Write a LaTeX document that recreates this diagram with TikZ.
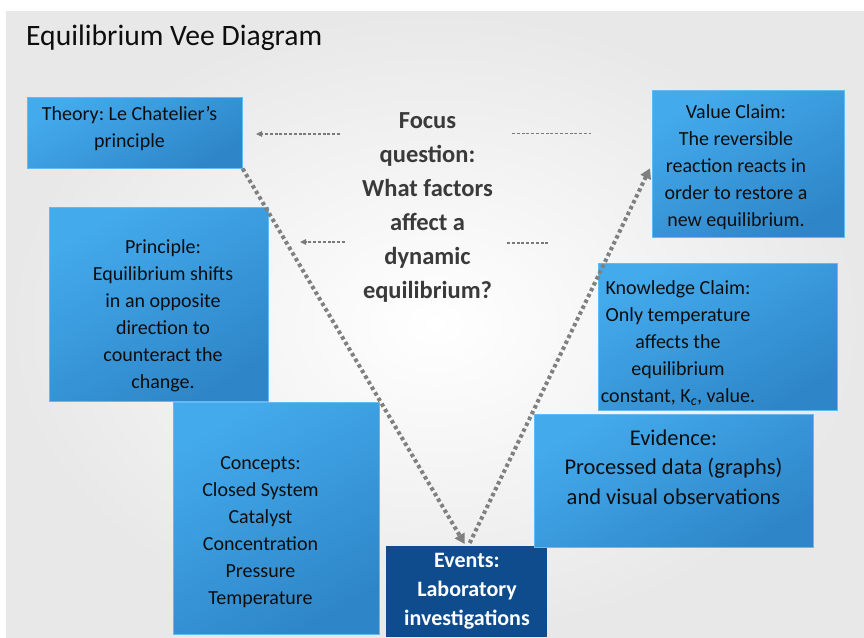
\documentclass[tikz,border=0pt]{standalone}
\usepackage{fontspec}
\setmainfont{Carlito}
\usetikzlibrary{arrows.meta}
\frenchspacing
\definecolor{bA}{HTML}{43AAEC}
\definecolor{bB}{HTML}{2E86C8}
\definecolor{bEdge}{HTML}{62BAF0}
\definecolor{evBlue}{HTML}{0F4C8E}
\definecolor{vgray}{HTML}{808080}
\definecolor{dgray}{HTML}{7A7A7A}
\definecolor{qgray}{HTML}{3A3A3A}
\definecolor{bgOuter}{HTML}{E8E8E8}
\definecolor{txt}{HTML}{0E0E0E}
\begin{document}
\begin{tikzpicture}[x=1pt,y=-1pt,
  bluebox/.style={draw=bEdge, line width=0.6pt, top color=bA, bottom color=bB, shading angle=30, anchor=north west, inner sep=0pt},
  darkbox/.style={fill=evBlue, anchor=north west, inner sep=0pt},
  boxtext/.style={anchor=base, align=center, inner sep=0pt, text=txt, font=\fontsize{20}{27}\selectfont},
  vline/.style={draw=vgray, line width=4pt, dash pattern=on 3.5pt off 3pt, -{Triangle[length=10pt,width=11pt]}},
  dline/.style={draw=dgray, line width=1.3pt, dash pattern=on 3pt off 1.8pt},
  dtip/.style={-{Triangle[length=6pt,width=5.5pt]}}
]
\useasboundingbox (0,0) rectangle (864,637);
\fill[white] (0,0) rectangle (864,637);
\shade[inner color=white, outer color=bgOuter] (6,11) rectangle (864,637);

\node[anchor=base west, inner sep=0pt, text=txt, font=\fontsize{29.6}{34}\selectfont] (title) at (26,45) {Equilibrium Vee Diagram};

% boxes
\node[bluebox, minimum width=215pt, minimum height=71pt] (theory) at (27,97) {};
\node[bluebox, minimum width=219pt, minimum height=194pt] (principle) at (49,207) {};
\node[bluebox, minimum width=206pt, minimum height=232pt] (concepts) at (173,402) {};
\node[darkbox, minimum width=161pt, minimum height=91pt] (events) at (386,546) {};
\node[bluebox, minimum width=279pt, minimum height=133pt] (evidence) at (534,414) {};
\node[bluebox, minimum width=239pt, minimum height=147pt] (knowledge) at (598,263) {};
\node[bluebox, minimum width=192pt, minimum height=147pt] (value) at (652,90) {};

% texts (base anchor = baseline of the last line)
\node[boxtext] (theoryT) at (129.5,147) {Theory: Le Chatelier’s\\principle};
\node[boxtext] (principleT) at (163,388) {Principle:\\Equilibrium shifts\\in an opposite\\direction to\\counteract the\\change.};
\node[boxtext] (conceptsT) at (260.5,604.5) {Concepts:\\Closed System\\Catalyst\\Concentration\\Pressure\\Temperature};
\node[boxtext, text=white, font=\fontsize{22}{29}\selectfont\bfseries] (eventsT) at (467,625) {Events:\\Laboratory\\investigations};
\node[boxtext, font=\fontsize{22.5}{29.5}\selectfont] (evidenceT) at (673.5,504) {Evidence:\\Processed data (graphs)\\and visual observations};
\node[boxtext] (knowT) at (678,402.5) {Knowledge Claim:\\Only temperature\\affects the\\equilibrium\\constant, K\textsubscript{\itshape c}, value.};
\node[boxtext] (valueT) at (736,226) {Value Claim:\\The reversible\\reaction reacts in\\order to restore a\\new equilibrium.};
\node[boxtext, text=qgray, font=\fontsize{24.5}{34}\selectfont\bfseries] (focus) at (427.5,298) {Focus\\question:\\What factors\\affect a\\dynamic\\equilibrium?};

% V connectors
\draw[vline] (theory.south east) -- ([xshift=-2pt,yshift=2pt]events.north);
\draw[vline] ([xshift=3pt,yshift=3pt]events.north) -- ([xshift=-2pt,yshift=-4.5pt]value.west);

% dashed links
\coordinate (d1s) at (340,134);
\coordinate (d1e) at (256,134);
\coordinate (d2s) at (345,242);
\coordinate (d2e) at (300,242);
\coordinate (d3s) at (512,133);
\coordinate (d3e) at (591,133);
\coordinate (d4s) at (507,243);
\coordinate (d4e) at (549,243);
\draw[dline, dtip] (d1s) -- (d1e);
\draw[dline, dtip] (d2s) -- (d2e);
\draw[dline, line width=1pt] (d3s) -- (d3e);
\draw[dline, line width=1.1pt] (d4s) -- (d4e);
\end{tikzpicture}
\end{document}
